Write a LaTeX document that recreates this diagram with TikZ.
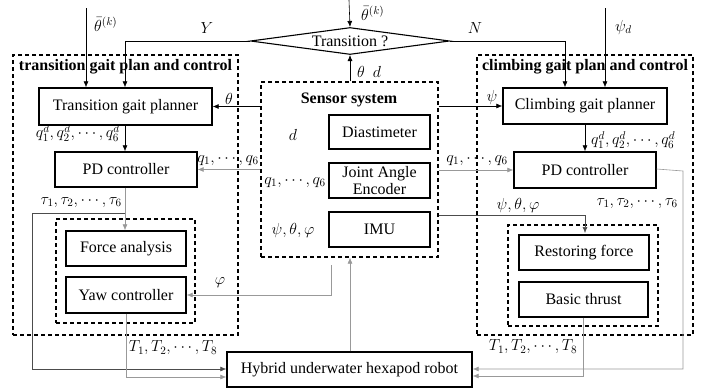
\RequirePackage{fix-cm}
\documentclass[tikz,border=0pt]{standalone}
\usepackage{fontspec}
\setmainfont{Liberation Serif}
\usetikzlibrary{arrows.meta,shapes.geometric}
\begin{document}
\begin{tikzpicture}[x=1pt,y=-1pt,
  txt/.style={font=\fontsize{16}{19}\selectfont},
  box/.style={draw,line width=1.4pt,inner sep=0pt,align=center,txt},
  dbox/.style={draw,line width=1.3pt,dash pattern=on 4pt off 3pt,inner sep=0pt},
  ttl/.style={font=\fontsize{16}{19}\selectfont\bfseries,inner sep=0pt},
  arr/.style={-{Latex[length=6pt,width=5pt]},line width=0.6pt},
  garr/.style={arr,draw=black!40},
  darr/.style={arr,draw=black!70},
  lbl/.style={txt,inner sep=0pt}]
\useasboundingbox (0,0) rectangle (715,389);

% containers
\node[dbox,minimum width=225pt,minimum height=280pt] (leftbox) at (125.5,195) {};
\node[dbox,minimum width=216pt,minimum height=280pt] (rightbox) at (585,195) {};
\node[dbox,minimum width=177pt,minimum height=175pt] (sensor) at (349.5,169.5) {};
\node[dbox,minimum width=139pt,minimum height=104pt] (innerL) at (125.5,271) {};
\node[dbox,minimum width=150pt,minimum height=101pt] (innerR) at (583,275.5) {};

\node[ttl] (ttlL) at (125.5,67) {transition gait plan and control};
\node[ttl] (ttlR) at (585,67) {climbing gait plan and control};
\node[ttl] (ttlS) at (349,100) {Sensor system};

% boxes
\node[box,minimum width=173pt,minimum height=37pt] (tgp) at (125.5,106.5) {Transition gait planner};
\node[box,minimum width=142pt,minimum height=35pt] (pdl) at (126,169.5) {PD controller};
\node[box,minimum width=120pt,minimum height=35pt] (fa) at (126,248.5) {Force analysis};
\node[box,minimum width=120pt,minimum height=36pt] (yaw) at (126,295) {Yaw controller};

\node[box,line width=1.1pt,shape=diamond,aspect=7.4,minimum width=199pt,minimum height=27pt] (trans) at (350,41) {Transition ?};

\node[box,minimum width=101pt,minimum height=34pt] (dia) at (379.5,132) {Diastimeter};
\node[box,minimum width=101pt,minimum height=35pt] (jae) at (379.5,180.5) {Joint Angle\\[-2pt]Encoder};
\node[box,minimum width=101pt,minimum height=35pt] (imu) at (379.5,229.5) {IMU};

\node[box,minimum width=164pt,minimum height=36pt] (cgp) at (585,106) {Climbing gait planner};
\node[box,minimum width=142pt,minimum height=36pt] (pdr) at (585,170) {PD controller};
\node[box,minimum width=130pt,minimum height=35pt] (rf) at (584,252.5) {Restoring force};
\node[box,minimum width=129pt,minimum height=35pt] (bt) at (583.5,299.5) {Basic thrust};

\node[box,minimum width=245pt,minimum height=35pt] (robot) at (349.5,369.5) {Hybrid underwater hexapod robot};

% sensor inner labels
\node[lbl] (ld) at (293,135) {$d$};
\node[lbl] (lq) at (295,182) {$q_1,\cdots,q_6$};
\node[lbl] (lpsi) at (293,230) {$\psi,\theta,\varphi$};

% free ends
\coordinate (topin) at (349,0);
\coordinate (leftin) at (86,8);
\coordinate (psidin) at (605,8);
\coordinate (phistart) at (331,265);

% connectors
\draw[arr] (topin) -- (trans.north);
\node[lbl,anchor=west] (l1) at (361,13) {$\bar{\theta}^{(k)}$};
\draw[arr] (leftin) -- (leftin |- tgp.north);
\node[lbl,anchor=west] (l2) at (94,24) {$\bar{\theta}^{(k)}$};
\draw[arr] (psidin) -- (psidin |- cgp.north);
\node[lbl,anchor=west] (l3) at (615,27) {$\psi_d$};

\draw[arr] (trans.west) -| ([xshift=-0.5pt]tgp.north);
\node[lbl] (lY) at (207,28) {$Y$};
\draw[arr] (trans.east) -| ([xshift=-20pt]cgp.north);
\node[lbl] (lN) at (475,28) {$N$};

\draw[arr] (sensor.north -| trans.south) -- (trans.south);
\node[lbl,anchor=west] (lthd) at (357,72) {$\theta\ \ d$};

\draw[arr] (sensor.west |- tgp.east) -- (tgp.east);
\node[lbl] (lth) at (229,99) {$\theta$};
\draw[arr] (sensor.east |- cgp.west) -- (cgp.west);
\node[lbl] (lps) at (492,97) {$\psi$};

\draw[arr] ([xshift=-0.5pt]tgp.south) -- ([xshift=-1pt]pdl.north);
\node[lbl,anchor=east] (lqd1) at (120,133) {$q_1^d,q_2^d,\cdots,q_6^d$};
\draw[arr] (cgp.south) -- (pdr.north);
\node[lbl,anchor=west] (lqd2) at (591,140) {$q_1^d,q_2^d,\cdots,q_6^d$};

\draw[garr] (sensor.west |- pdl.east) -- (pdl.east);
\node[lbl] (lq1) at (228,160) {$q_1,\cdots,q_6$};
\draw[garr] (sensor.east |- pdr.west) -- (pdr.west);
\node[lbl] (lq2) at (477,160) {$q_1,\cdots,q_6$};

\coordinate (brL) at (125,213);
\draw[garr] ([xshift=-1pt]pdl.south) -- ([xshift=-1pt]fa.north);
\node[lbl,anchor=east] (ltau1) at (122,202) {$\tau_1,\tau_2,\cdots,\tau_6$};
\draw[darr] (brL) -- (32,213) |- ([yshift=0.5pt]robot.west);

\draw[garr] (phistart) |- (yaw.east);
\node[lbl] (lphi) at (220,283) {$\varphi$};

\draw[garr] (yaw.south) |- ([yshift=-7.5pt]robot.west);
\node[lbl] (lT1) at (173,348) {$T_1,T_2,\cdots,T_8$};

\draw[darr] (sensor.east |- imu.east) ++(0,-14.5) -| (585,233);
\node[lbl] (lpsi2) at (518,205) {$\psi,\theta,\varphi$};

\draw[garr] (bt.south) |- ([yshift=-6.5pt]robot.east);
\node[lbl] (lT2) at (533,347) {$T_1,T_2,\cdots,T_8$};

\draw[garr] ([yshift=1pt]pdr.east) -- (683,171) |- ([yshift=0.5pt]robot.east);
\node[lbl,anchor=east] (ltau2) at (678,203) {$\tau_1,\tau_2,\cdots,\tau_6$};

\draw[garr] ([xshift=0.5pt]robot.north) -- ([xshift=0.5pt]sensor.south);
\end{tikzpicture}
\end{document}
